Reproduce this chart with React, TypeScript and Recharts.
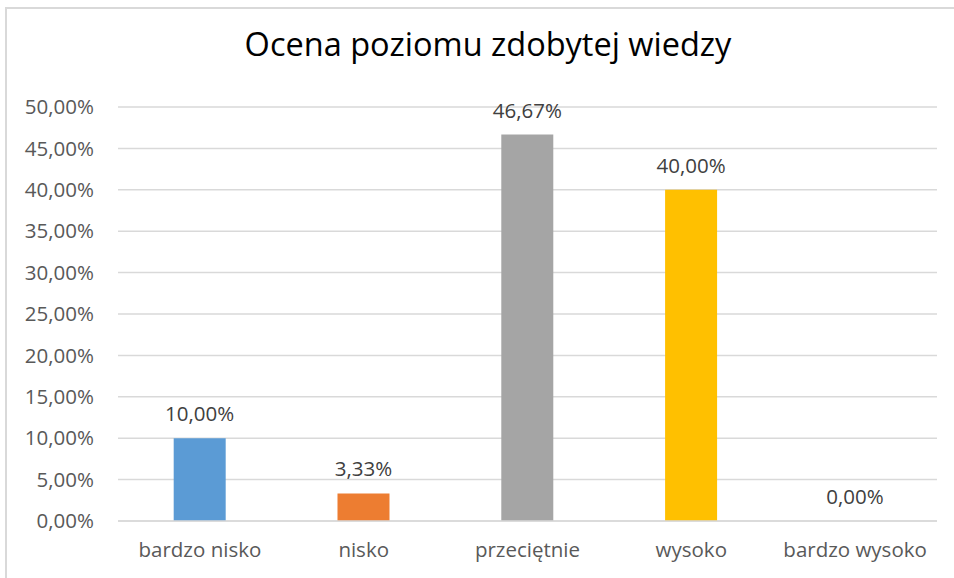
import React from 'react';
import { BarChart, Bar, XAxis, YAxis, CartesianGrid, Cell, LabelList } from 'recharts';

const categories = ['bardzo nisko', 'nisko', 'przeciętnie', 'wysoko', 'bardzo wysoko'];
const values = [10, 3.33, 46.67, 40, 0];
const colors = ['#5b9bd5', '#ed7d31', '#a5a5a5', '#ffc000', '#4472c4'];
const yTicks = [0, 5, 10, 15, 20, 25, 30, 35, 40, 45, 50];

const data = categories.map((name, i) => ({ name, value: values[i] }));

const fmt = (v: number) => v.toFixed(2).replace('.', ',') + '%';

const font = '"Open Sans", Lato, sans-serif';

export default function App() {
  return (
    <div style={{ position: 'absolute', left: 0, top: 0, width: 954, height: 578, background: '#fff', overflow: 'hidden', fontFamily: font }}>
      <div
        style={{
          position: 'absolute',
          left: 5,
          top: 7,
          width: 960,
          height: 600,
          border: '2px solid #d9d9d9',
          boxSizing: 'border-box',
        }}
      />
      <div
        style={{
          position: 'absolute',
          left: 0,
          top: 22,
          width: 976,
          textAlign: 'center',
          fontSize: 32.5,
          lineHeight: '44px',
          color: '#000',
        }}
      >
        Ocena poziomu zdobytej wiedzy
      </div>
      <div style={{ position: 'absolute', left: 0, top: 0 }}>
        <BarChart
          width={954}
          height={578}
          data={data}
          margin={{ top: 107, right: 17, left: 0, bottom: 0 }}
          barCategoryGap="34%"
        >
          <CartesianGrid vertical={false} stroke="#d9d9d9" strokeWidth={1.5} />
          <XAxis
            dataKey="name"
            height={57}
            axisLine={{ stroke: '#d9d9d9', strokeWidth: 1.5 }}
            tickLine={false}
            tickSize={0}
            tickMargin={21}
            tick={{ fill: '#595959', fontSize: 20.5, fontFamily: font }}
            interval={0}
          />
          <YAxis
            width={118}
            domain={[0, 50]}
            ticks={yTicks}
            tickFormatter={fmt}
            axisLine={false}
            tickLine={false}
            tickSize={0}
            tickMargin={24}
            tick={{ fill: '#595959', fontSize: 20.5, fontFamily: font }}
            interval={0}
          />
          <Bar
            dataKey="value"
            isAnimationActive={false}
            minPointSize={(v: number) => (v === 0 ? 0.01 : 0)}
          >
            {data.map((d, i) => (
              <Cell key={d.name} fill={colors[i]} />
            ))}
            <LabelList
              dataKey="value"
              position="top"
              offset={17}
              formatter={(v: number) => fmt(v)}
              style={{ fill: '#404040', fontSize: 20.5, fontFamily: font }}
            />
          </Bar>
        </BarChart>
      </div>
    </div>
  );
}
